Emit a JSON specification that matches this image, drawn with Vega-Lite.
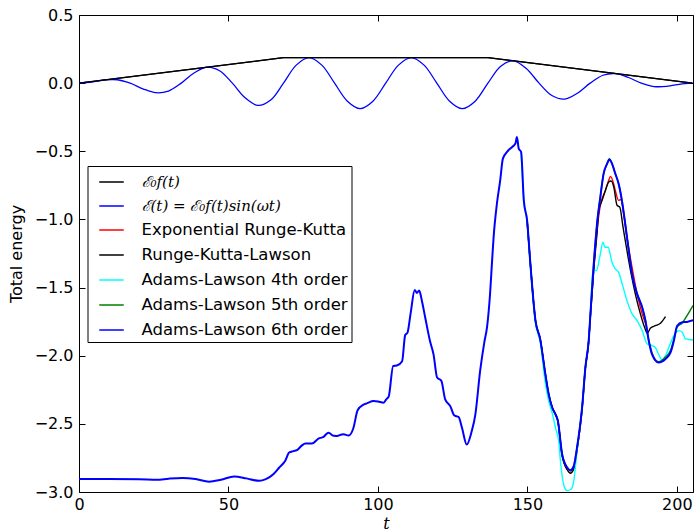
{
  "$schema": "https://vega.github.io/schema/vega-lite/v6.json",
  "width": 614,
  "height": 477,
  "autosize": {"type": "none"},
  "padding": {"left": 79, "top": 15, "right": 1, "bottom": 40},
  "background": "white",
  "data": {"values": [
    {"s":"E0","t":0,"y":0},{"s":"E0","t":68.4,"y":0.187},{"s":"E0","t":136.8,"y":0.187},{"s":"E0","t":205.2,"y":0},
    {"s":"EF","t":0,"y":0},{"s":"EF","t":4.275,"y":0.0083},{"s":"EF","t":8.55,"y":0.0234},{"s":"EF","t":12.825,"y":0.0248},{"s":"EF","t":17.1,"y":0},
    {"s":"EF","t":21.375,"y":-0.0413},{"s":"EF","t":25.65,"y":-0.0701},{"s":"EF","t":29.925,"y":-0.0579},{"s":"EF","t":34.2,"y":0},
    {"s":"EF","t":38.475,"y":0.0744},{"s":"EF","t":42.75,"y":0.1169},{"s":"EF","t":47.025,"y":0.0909},{"s":"EF","t":51.3,"y":0},
    {"s":"EF","t":55.575,"y":-0.1074},{"s":"EF","t":59.85,"y":-0.1636},{"s":"EF","t":64.125,"y":-0.124},{"s":"EF","t":68.4,"y":0},
    {"s":"EF","t":72.675,"y":0.1322},{"s":"EF","t":76.95,"y":0.187},{"s":"EF","t":81.225,"y":0.1322},{"s":"EF","t":85.5,"y":0},
    {"s":"EF","t":89.775,"y":-0.1322},{"s":"EF","t":94.05,"y":-0.187},{"s":"EF","t":98.325,"y":-0.1322},{"s":"EF","t":102.6,"y":0},
    {"s":"EF","t":106.875,"y":0.1322},{"s":"EF","t":111.15,"y":0.187},{"s":"EF","t":115.425,"y":0.1322},{"s":"EF","t":119.7,"y":0},
    {"s":"EF","t":123.975,"y":-0.1322},{"s":"EF","t":128.25,"y":-0.187},{"s":"EF","t":132.525,"y":-0.1322},{"s":"EF","t":136.8,"y":0},
    {"s":"EF","t":141.075,"y":0.124},{"s":"EF","t":145.35,"y":0.1636},{"s":"EF","t":149.625,"y":0.1074},{"s":"EF","t":153.9,"y":0},
    {"s":"EF","t":158.175,"y":-0.0909},{"s":"EF","t":162.45,"y":-0.1169},{"s":"EF","t":166.725,"y":-0.0744},{"s":"EF","t":171,"y":0},
    {"s":"EF","t":175.275,"y":0.0579},{"s":"EF","t":179.55,"y":0.0701},{"s":"EF","t":183.825,"y":0.0413},{"s":"EF","t":188.1,"y":0},
    {"s":"EF","t":192.375,"y":-0.0248},{"s":"EF","t":196.65,"y":-0.0234},{"s":"EF","t":200.925,"y":-0.0083},{"s":"EF","t":205.2,"y":0},

    {"s":"ERK","t":149.9,"y":-1.007},{"s":"ERK","t":151,"y":-1.326},{"s":"ERK","t":152.7,"y":-1.743},{"s":"ERK","t":154.3,"y":-1.88},
    {"s":"ERK","t":156,"y":-2.135},{"s":"ERK","t":157.1,"y":-2.28},{"s":"ERK","t":158.3,"y":-2.38},{"s":"ERK","t":159.4,"y":-2.43},
    {"s":"ERK","t":160.2,"y":-2.48},{"s":"ERK","t":161.6,"y":-2.73},{"s":"ERK","t":163.3,"y":-2.835},{"s":"ERK","t":164.4,"y":-2.862},
    {"s":"ERK","t":165.5,"y":-2.83},{"s":"ERK","t":166.6,"y":-2.69},{"s":"ERK","t":168.3,"y":-2.39},{"s":"ERK","t":169.4,"y":-2.09},
    {"s":"ERK","t":170.5,"y":-1.9},{"s":"ERK","t":171.1,"y":-1.7},{"s":"ERK","t":172.2,"y":-1.36},{"s":"ERK","t":173.3,"y":-1.08},
    {"s":"ERK","t":174.4,"y":-0.897},{"s":"ERK","t":176.1,"y":-0.787},{"s":"ERK","t":177.2,"y":-0.713},{"s":"ERK","t":177.8,"y":-0.684},
    {"s":"ERK","t":178.7,"y":-0.726},{"s":"ERK","t":179.4,"y":-0.787},{"s":"ERK","t":180.5,"y":-0.86},{"s":"ERK","t":181.3,"y":-0.855},
    {"s":"ERK","t":182.2,"y":-0.958},{"s":"ERK","t":183.3,"y":-1.13},{"s":"ERK","t":185,"y":-1.35},{"s":"ERK","t":186.7,"y":-1.546},
    {"s":"ERK","t":188.4,"y":-1.693},{"s":"ERK","t":189.8,"y":-1.78},

    {"s":"RKL","t":149.9,"y":-1.007},{"s":"RKL","t":151,"y":-1.326},{"s":"RKL","t":152.7,"y":-1.743},{"s":"RKL","t":154.3,"y":-1.88},
    {"s":"RKL","t":156,"y":-2.135},{"s":"RKL","t":157.1,"y":-2.28},{"s":"RKL","t":158.3,"y":-2.38},{"s":"RKL","t":159.4,"y":-2.43},
    {"s":"RKL","t":160.2,"y":-2.48},{"s":"RKL","t":161.6,"y":-2.73},{"s":"RKL","t":163.3,"y":-2.835},{"s":"RKL","t":164.4,"y":-2.862},
    {"s":"RKL","t":165.5,"y":-2.83},{"s":"RKL","t":166.6,"y":-2.69},{"s":"RKL","t":168.3,"y":-2.39},{"s":"RKL","t":169.4,"y":-2.09},
    {"s":"RKL","t":170.5,"y":-1.9},{"s":"RKL","t":171.1,"y":-1.7},{"s":"RKL","t":172.2,"y":-1.37},{"s":"RKL","t":173.3,"y":-1.1},
    {"s":"RKL","t":173.9,"y":-0.934},{"s":"RKL","t":175,"y":-0.86},{"s":"RKL","t":176.1,"y":-0.787},{"s":"RKL","t":177.2,"y":-0.726},
    {"s":"RKL","t":178,"y":-0.718},{"s":"RKL","t":178.9,"y":-0.762},{"s":"RKL","t":180,"y":-0.897},{"s":"RKL","t":180.9,"y":-0.91},
    {"s":"RKL","t":182,"y":-1.057},{"s":"RKL","t":183.3,"y":-1.228},{"s":"RKL","t":184.5,"y":-1.375},{"s":"RKL","t":186.1,"y":-1.546},
    {"s":"RKL","t":187.8,"y":-1.693},{"s":"RKL","t":189.2,"y":-1.792},{"s":"RKL","t":190.1,"y":-1.836},{"s":"RKL","t":191.2,"y":-1.796},
    {"s":"RKL","t":192.8,"y":-1.78},{"s":"RKL","t":194.5,"y":-1.762},{"s":"RKL","t":196.2,"y":-1.713},

    {"s":"AL4","t":147.9,"y":-0.505},{"s":"AL4","t":148.8,"y":-0.86},{"s":"AL4","t":149.9,"y":-1.007},{"s":"AL4","t":151,"y":-1.34},
    {"s":"AL4","t":152.7,"y":-1.76},{"s":"AL4","t":154.3,"y":-1.9},{"s":"AL4","t":156,"y":-2.2},{"s":"AL4","t":157.1,"y":-2.33},
    {"s":"AL4","t":158.3,"y":-2.42},{"s":"AL4","t":159.4,"y":-2.53},{"s":"AL4","t":160.5,"y":-2.63},{"s":"AL4","t":161,"y":-2.76},
    {"s":"AL4","t":162.4,"y":-2.965},{"s":"AL4","t":163.3,"y":-2.99},{"s":"AL4","t":164.6,"y":-2.98},{"s":"AL4","t":165.5,"y":-2.92},
    {"s":"AL4","t":166.6,"y":-2.7},{"s":"AL4","t":168.3,"y":-2.38},{"s":"AL4","t":169.4,"y":-2.086},{"s":"AL4","t":170.5,"y":-1.89},
    {"s":"AL4","t":171.1,"y":-1.69},{"s":"AL4","t":171.8,"y":-1.4},{"s":"AL4","t":172.5,"y":-1.375},{"s":"AL4","t":173.1,"y":-1.375},
    {"s":"AL4","t":174.2,"y":-1.277},{"s":"AL4","t":175.3,"y":-1.167},{"s":"AL4","t":175.9,"y":-1.204},{"s":"AL4","t":177,"y":-1.204},
    {"s":"AL4","t":178.3,"y":-1.314},{"s":"AL4","t":179.4,"y":-1.363},{"s":"AL4","t":180.5,"y":-1.387},{"s":"AL4","t":181.7,"y":-1.473},
    {"s":"AL4","t":183.3,"y":-1.596},{"s":"AL4","t":185,"y":-1.693},{"s":"AL4","t":186.7,"y":-1.743},{"s":"AL4","t":188.4,"y":-1.816},
    {"s":"AL4","t":190.1,"y":-1.914},{"s":"AL4","t":191.7,"y":-1.926},{"s":"AL4","t":192.8,"y":-1.94},{"s":"AL4","t":193.9,"y":-1.99},
    {"s":"AL4","t":195,"y":-2.03},{"s":"AL4","t":196.2,"y":-2.0},{"s":"AL4","t":197.3,"y":-1.94},{"s":"AL4","t":199,"y":-1.853},
    {"s":"AL4","t":200.7,"y":-1.816},{"s":"AL4","t":201.8,"y":-1.828},{"s":"AL4","t":202.9,"y":-1.877},{"s":"AL4","t":205.4,"y":-1.885},

    {"s":"AL5","t":149.9,"y":-1.007},{"s":"AL5","t":151,"y":-1.326},{"s":"AL5","t":152.7,"y":-1.743},{"s":"AL5","t":154.3,"y":-1.88},
    {"s":"AL5","t":156,"y":-2.135},{"s":"AL5","t":157.1,"y":-2.28},{"s":"AL5","t":158.3,"y":-2.38},{"s":"AL5","t":159.4,"y":-2.43},
    {"s":"AL5","t":160.2,"y":-2.478},{"s":"AL5","t":161.6,"y":-2.72},{"s":"AL5","t":163.3,"y":-2.82},{"s":"AL5","t":164.4,"y":-2.845},
    {"s":"AL5","t":165.5,"y":-2.81},{"s":"AL5","t":166.6,"y":-2.674},{"s":"AL5","t":168.3,"y":-2.38},{"s":"AL5","t":169.4,"y":-2.086},
    {"s":"AL5","t":170.5,"y":-1.89},{"s":"AL5","t":171.1,"y":-1.69},{"s":"AL5","t":172.2,"y":-1.326},{"s":"AL5","t":173.3,"y":-1.03},
    {"s":"AL5","t":174.4,"y":-0.836},{"s":"AL5","t":175.5,"y":-0.664},{"s":"AL5","t":176.7,"y":-0.59},{"s":"AL5","t":177.4,"y":-0.555},
    {"s":"AL5","t":178.3,"y":-0.59},{"s":"AL5","t":179.4,"y":-0.664},{"s":"AL5","t":180.5,"y":-0.737},{"s":"AL5","t":181.7,"y":-0.873},
    {"s":"AL5","t":182.8,"y":-1.044},{"s":"AL5","t":183.9,"y":-1.228},{"s":"AL5","t":185,"y":-1.4},{"s":"AL5","t":186.7,"y":-1.546},
    {"s":"AL5","t":188.4,"y":-1.645},{"s":"AL5","t":189.5,"y":-1.743},{"s":"AL5","t":190.6,"y":-1.89},{"s":"AL5","t":191.7,"y":-1.98},
    {"s":"AL5","t":193.9,"y":-2.045},{"s":"AL5","t":196.2,"y":-2.01},{"s":"AL5","t":197.9,"y":-1.96},{"s":"AL5","t":199,"y":-1.88},
    {"s":"AL5","t":200.1,"y":-1.79},{"s":"AL5","t":201.8,"y":-1.76},{"s":"AL5","t":203.4,"y":-1.706},{"s":"AL5","t":205.4,"y":-1.632},

    {"s":"AL6","t":0,"y":-2.905},{"s":"AL6","t":10,"y":-2.905},{"s":"AL6","t":20,"y":-2.906},{"s":"AL6","t":26,"y":-2.91},
    {"s":"AL6","t":30,"y":-2.902},{"s":"AL6","t":34.6,"y":-2.897},{"s":"AL6","t":39,"y":-2.905},{"s":"AL6","t":43.5,"y":-2.924},
    {"s":"AL6","t":47.5,"y":-2.91},{"s":"AL6","t":51.9,"y":-2.886},{"s":"AL6","t":56,"y":-2.9},{"s":"AL6","t":60.3,"y":-2.918},
    {"s":"AL6","t":62.5,"y":-2.906},{"s":"AL6","t":65,"y":-2.87},{"s":"AL6","t":67,"y":-2.82},{"s":"AL6","t":69,"y":-2.77},
    {"s":"AL6","t":70.3,"y":-2.71},{"s":"AL6","t":71.7,"y":-2.7},{"s":"AL6","t":72.9,"y":-2.693},{"s":"AL6","t":74.5,"y":-2.66},
    {"s":"AL6","t":75.7,"y":-2.645},{"s":"AL6","t":77.9,"y":-2.645},{"s":"AL6","t":80.1,"y":-2.608},{"s":"AL6","t":81.8,"y":-2.596},
    {"s":"AL6","t":82.9,"y":-2.571},{"s":"AL6","t":83.5,"y":-2.566},{"s":"AL6","t":85.1,"y":-2.588},{"s":"AL6","t":86.3,"y":-2.589},
    {"s":"AL6","t":87.9,"y":-2.578},{"s":"AL6","t":88.5,"y":-2.576},{"s":"AL6","t":90.2,"y":-2.586},{"s":"AL6","t":91.8,"y":-2.53},
    {"s":"AL6","t":93.2,"y":-2.4},{"s":"AL6","t":95.2,"y":-2.358},{"s":"AL6","t":96.3,"y":-2.35},{"s":"AL6","t":98.5,"y":-2.333},
    {"s":"AL6","t":100,"y":-2.336},{"s":"AL6","t":101.9,"y":-2.345},{"s":"AL6","t":102.8,"y":-2.32},{"s":"AL6","t":103.6,"y":-2.3},
    {"s":"AL6","t":105.1,"y":-2.075},{"s":"AL6","t":106.3,"y":-2.072},{"s":"AL6","t":108.1,"y":-2.04},{"s":"AL6","t":109.1,"y":-1.85},
    {"s":"AL6","t":109.9,"y":-1.83},{"s":"AL6","t":111,"y":-1.68},{"s":"AL6","t":112.3,"y":-1.517},{"s":"AL6","t":113,"y":-1.54},
    {"s":"AL6","t":113.8,"y":-1.522},{"s":"AL6","t":114.7,"y":-1.596},{"s":"AL6","t":115.8,"y":-1.718},{"s":"AL6","t":117.5,"y":-1.9},
    {"s":"AL6","t":118.6,"y":-1.99},{"s":"AL6","t":119.8,"y":-2.16},{"s":"AL6","t":121.2,"y":-2.184},{"s":"AL6","t":122.5,"y":-2.32},
    {"s":"AL6","t":124.2,"y":-2.37},{"s":"AL6","t":125.5,"y":-2.437},{"s":"AL6","t":127,"y":-2.45},{"s":"AL6","t":128.1,"y":-2.527},
    {"s":"AL6","t":129.7,"y":-2.652},{"s":"AL6","t":131.3,"y":-2.56},{"s":"AL6","t":132.6,"y":-2.43},{"s":"AL6","t":134.2,"y":-2.11},
    {"s":"AL6","t":135.6,"y":-1.9},{"s":"AL6","t":136.5,"y":-1.79},{"s":"AL6","t":137.4,"y":-1.58},{"s":"AL6","t":138.2,"y":-1.3},
    {"s":"AL6","t":138.7,"y":-1.13},{"s":"AL6","t":139.8,"y":-0.885},{"s":"AL6","t":140.9,"y":-0.713},{"s":"AL6","t":141.8,"y":-0.554},
    {"s":"AL6","t":143.2,"y":-0.505},{"s":"AL6","t":144.9,"y":-0.468},{"s":"AL6","t":146,"y":-0.443},{"s":"AL6","t":146.5,"y":-0.395},
    {"s":"AL6","t":147.1,"y":-0.48},{"s":"AL6","t":147.9,"y":-0.505},{"s":"AL6","t":148.8,"y":-0.86},{"s":"AL6","t":149.9,"y":-1.007},
    {"s":"AL6","t":151,"y":-1.326},{"s":"AL6","t":152.7,"y":-1.743},{"s":"AL6","t":154.3,"y":-1.88},{"s":"AL6","t":156,"y":-2.135},
    {"s":"AL6","t":157.1,"y":-2.28},{"s":"AL6","t":158.3,"y":-2.38},{"s":"AL6","t":159.4,"y":-2.43},{"s":"AL6","t":160.2,"y":-2.478},
    {"s":"AL6","t":161.6,"y":-2.72},{"s":"AL6","t":163.3,"y":-2.82},{"s":"AL6","t":164.4,"y":-2.84},{"s":"AL6","t":165.5,"y":-2.81},
    {"s":"AL6","t":166.6,"y":-2.674},{"s":"AL6","t":168.3,"y":-2.38},{"s":"AL6","t":169.4,"y":-2.086},{"s":"AL6","t":170.5,"y":-1.89},
    {"s":"AL6","t":171.1,"y":-1.69},{"s":"AL6","t":172.2,"y":-1.326},{"s":"AL6","t":173.3,"y":-1.03},{"s":"AL6","t":174.4,"y":-0.836},
    {"s":"AL6","t":175.5,"y":-0.664},{"s":"AL6","t":176.7,"y":-0.59},{"s":"AL6","t":177.4,"y":-0.561},{"s":"AL6","t":178.3,"y":-0.59},
    {"s":"AL6","t":179.4,"y":-0.664},{"s":"AL6","t":180.5,"y":-0.737},{"s":"AL6","t":181.7,"y":-0.873},{"s":"AL6","t":182.8,"y":-1.044},
    {"s":"AL6","t":183.9,"y":-1.228},{"s":"AL6","t":185,"y":-1.4},{"s":"AL6","t":186.7,"y":-1.546},{"s":"AL6","t":188.4,"y":-1.645},
    {"s":"AL6","t":189.5,"y":-1.743},{"s":"AL6","t":190.6,"y":-1.89},{"s":"AL6","t":191.7,"y":-1.99},{"s":"AL6","t":193.9,"y":-2.05},
    {"s":"AL6","t":196.2,"y":-2.024},{"s":"AL6","t":197.9,"y":-1.976},{"s":"AL6","t":199,"y":-1.89},{"s":"AL6","t":200.1,"y":-1.78},
    {"s":"AL6","t":201.8,"y":-1.755},{"s":"AL6","t":203.4,"y":-1.752},{"s":"AL6","t":205.4,"y":-1.74}
  ]},
  "encoding": {
    "x": {"field": "t", "type": "quantitative",
      "scale": {"domain": [0, 205.4], "nice": false, "zero": false},
      "axis": {"values": [0, 50, 100, 150, 200], "format": "d", "tickSize": -6, "labelPadding": 10,
        "domain": false, "grid": false, "labelFlush": false, "labelFontSize": 16, "labelFont": "DejaVu Sans",
        "labelColor": "black", "tickColor": "black",
        "title": "t", "titleFont": "DejaVu Serif", "titleFontStyle": "italic", "titleFontSize": 16,
        "titleFontWeight": "normal", "titleColor": "black", "titlePadding": 3}},
    "y": {"field": "y", "type": "quantitative",
      "scale": {"domain": [-3, 0.5], "nice": false, "zero": false},
      "axis": {"values": [-3, -2.5, -2, -1.5, -1, -0.5, 0, 0.5], "format": ".1f", "tickSize": -6, "labelPadding": 12,
        "domain": false, "grid": false, "labelFlush": false, "labelFontSize": 16, "labelFont": "DejaVu Sans",
        "labelColor": "black", "tickColor": "black",
        "title": "Total energy", "titleFont": "DejaVu Sans", "titleFontSize": 16,
        "titleFontWeight": "normal", "titleColor": "black", "titlePadding": 10}},
    "color": {"field": "s", "type": "nominal",
      "scale": {"domain": ["E0", "EF", "ERK", "RKL", "AL4", "AL5", "AL6"],
        "range": ["#000000", "#0000ff", "#ff0000", "#000000", "#00ffff", "#008000", "#0000ff"]},
      "legend": {"title": null, "orient": "none", "legendX": 8.5, "legendY": 151,
        "symbolType": "stroke", "symbolSize": 600, "symbolStrokeWidth": 1.5, "symbolOffset": 8,
        "labelOffset": 17, "labelFontSize": 16.5, "labelFont": "DejaVu Sans", "labelColor": "black", "labelLimit": 400,
        "rowPadding": 3, "padding": 3, "strokeColor": "black", "fillColor": "white",
        "labelExpr": "datum.label=='E0' ? 'ℰ₀f(t)' : datum.label=='EF' ? 'ℰ(t) = ℰ₀f(t)sin(ωt)' : datum.label=='ERK' ? 'Exponential Runge-Kutta' : datum.label=='RKL' ? 'Runge-Kutta-Lawson' : datum.label=='AL4' ? 'Adams-Lawson 4th order' : datum.label=='AL5' ? 'Adams-Lawson 5th order' : 'Adams-Lawson 6th order'",
        "encode": {"labels": {"update": {
          "font": {"signal": "(datum.value=='E0' || datum.value=='EF') ? 'DejaVu Serif' : 'DejaVu Sans'"},
          "fontStyle": {"signal": "(datum.value=='E0' || datum.value=='EF') ? 'italic' : 'normal'"},
          "fontSize": {"signal": "(datum.value=='E0' || datum.value=='EF') ? 15 : 16.5"}
        }}}}
    }
  },
  "layer": [
    {"layer": [
      {"transform": [{"filter": "datum.s=='E0'"}], "mark": {"type": "line", "strokeWidth": 1.3, "clip": true}},
      {"transform": [{"filter": "datum.s=='EF'"}], "mark": {"type": "line", "strokeWidth": 1.3, "interpolate": "catmull-rom", "clip": true}},
      {"transform": [{"filter": "datum.s=='ERK'"}], "mark": {"type": "line", "strokeWidth": 1.4, "interpolate": "monotone", "clip": true}},
      {"transform": [{"filter": "datum.s=='RKL'"}], "mark": {"type": "line", "strokeWidth": 1.4, "interpolate": "monotone", "clip": true}},
      {"transform": [{"filter": "datum.s=='AL4'"}], "mark": {"type": "line", "strokeWidth": 1.4, "interpolate": "monotone", "clip": true}},
      {"transform": [{"filter": "datum.s=='AL5'"}], "mark": {"type": "line", "strokeWidth": 1.5, "interpolate": "monotone", "clip": true}},
      {"transform": [{"filter": "datum.s=='AL6'"}], "mark": {"type": "line", "strokeWidth": 2.0, "interpolate": "monotone", "clip": true}}
    ]},
    {"transform": [{"filter": "datum.s=='E0'"}],
      "mark": {"type": "line", "strokeWidth": 1.3, "clip": true},
      "encoding": {
        "x": {"field": "t", "type": "quantitative",
          "scale": {"domain": [0, 205.4], "nice": false, "zero": false},
          "axis": {"orient": "top", "values": [0, 50, 100, 150, 200], "labels": false, "domain": false, "grid": false,
            "tickSize": -6, "tickColor": "black", "title": null}},
        "y": {"field": "y", "type": "quantitative",
          "scale": {"domain": [-3, 0.5], "nice": false, "zero": false},
          "axis": {"orient": "right", "values": [-3, -2.5, -2, -1.5, -1, -0.5, 0, 0.5], "labels": false, "domain": false,
            "grid": false, "tickSize": -6, "tickColor": "black", "title": null}}
      }}
  ],
  "resolve": {"axis": {"x": "independent", "y": "independent"}},
  "config": {"view": {"stroke": "black", "strokeWidth": 1}, "font": "DejaVu Sans"}
}
